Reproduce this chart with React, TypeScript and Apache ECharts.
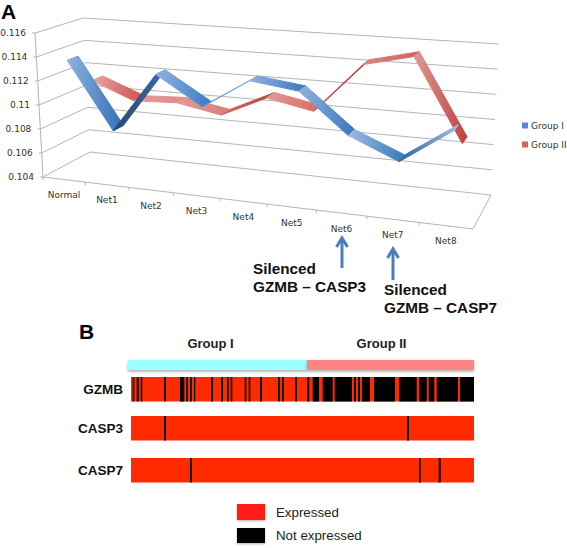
import React, { useEffect, useRef } from "react";
import * as echarts from "echarts";

const categories = ["Normal", "Net1", "Net2", "Net3", "Net4", "Net5", "Net6", "Net7", "Net8"];
const groupOne = [0.1136, 0.10805, 0.113, 0.1107, 0.1131, 0.1126, 0.1095, 0.1079, 0.1106];
const groupTwo = [0.11108, 0.10964, 0.1098, 0.1091, 0.11085, 0.1101, 0.11417, 0.11509, 0.1086];
const yTicks = [0.104, 0.106, 0.108, 0.11, 0.112, 0.114, 0.116];
const yTickLabels = ["0.104", "0.106", "0.108", "0.11", "0.112", "0.114", "0.116"];

const sampleCount = 343;
const gzmbSilent = [[1.7, 3.3], [5.7, 7.7], [9.7, 11.3], [33, 34.7], [49, 53.3], [55.3, 57], [59, 60.7], [63, 64.3], [80, 82], [90, 92], [96, 97.7], [99.7, 101.3], [113.7, 115.3], [117.7, 119.3], [129, 131], [147, 148.7], [151, 152.7], [164.3, 166], [176.3, 178.3], [181.7, 188], [191.7, 201.7], [203.7, 221], [223, 225], [227, 229], [231, 239], [243, 264], [268.3, 285.7], [288, 295.7], [297.7, 303.3], [305.7, 327], [329, 343]];
const casp3Silent = [[33, 35], [276, 278]];
const casp7Silent = [[59, 60.7], [288, 289.7], [307.7, 309.7]];
const geneRows = ["GZMB", "CASP3", "CASP7"];
const groupSpans = [["Group I", 0, 179], ["Group II", 179, 346]];

const FRAME = "#b4b4b4";
const TEXT = "#333333";
const BLUE_BAND = [0.19, 0.43];
const RED_BAND = [0.69, 0.93];
const BLUE_SHADES = [["#8fb2de", "#2f70b8"], ["#2a466e", "#3a6da8"], ["#8fb2de", "#3a7ac2"], ["#5f97d8", "#8db6e6"], ["#8fb2de", "#3a78bc"], ["#8fb2de", "#3a78bc"], ["#9dbce2", "#3a78bc"], ["#2f62a0", "#a4c0e2"]];
const RED_SHADES = [["#e9a5a2", "#cc4f4c"], ["#e29a97", "#dc8c88"], ["#e29a97", "#d97f7c"], ["#d66a66", "#b84441"], ["#e29a97", "#d96a66"], ["#c45450", "#b84441"], ["#d98582", "#cc6461"], ["#dc9a97", "#c0403d"]];

const lerp = (a: number, b: number, t: number) => a + (b - a) * t;
const warp = (u: number) => u / (u + 1.146 * (1 - u));

// perspective of the plot box: u along categories, v along values, d into the depth
function project(u: number, v: number, d: number): [number, number] {
  const w = warp(u);
  const corner = (fl: number, fr: number, bl: number, br: number) => lerp(lerp(fl, fr, w), lerp(bl, br, w), d);
  const x0 = corner(43, 473, 90, 491);
  const y0 = corner(177, 229, 152, 195);
  const x1 = corner(35, 482, 83, 499);
  const y1 = corner(33, 64, 18, 44);
  return [lerp(x0, x1, v), lerp(y0, y1, v)];
}

function toUnit(p: number[], rect: any) {
  return [(p[0] - rect.x) / rect.width, (rect.y + rect.height - p[1]) / rect.height];
}

function ribbonSeries(name: string, values: number[], band: number[], shades: string[][], color: string) {
  return {
    name,
    type: "custom",
    coordinateSystem: "cartesian2d",
    xAxisIndex: 0,
    yAxisIndex: 0,
    silent: true,
    itemStyle: { color },
    encode: { x: 0, y: 1 },
    data: values.slice(0, -1).map((v, i) => [i, v, values[i + 1]]),
    renderItem: (params: any, api: any) => {
      const i = api.value(0);
      const a = toUnit(api.coord([i, api.value(1)]), params.coordSys);
      const b = toUnit(api.coord([i + 1, api.value(2)]), params.coordSys);
      const pts = [project(a[0], a[1], band[0]), project(b[0], b[1], band[0]), project(b[0], b[1], band[1]), project(a[0], a[1], band[1])];
      const s = shades[i];
      const paint = () => new echarts.graphic.LinearGradient(0, 0, 1, 0, [{ offset: 0, color: s[0] }, { offset: 1, color: s[1] }]);
      return {
        type: "polygon",
        shape: { points: pts },
        style: { fill: paint(), stroke: paint(), lineWidth: 1, lineJoin: "round" },
      };
    },
  };
}

function stripeRow(index: number, silent: number[][]) {
  return {
    type: "custom",
    name: "row" + index,
    coordinateSystem: "cartesian2d",
    xAxisIndex: index + 1,
    yAxisIndex: index + 1,
    silent: true,
    encode: { x: [0, 1], y: 2 },
    data: [[0, sampleCount, 0, 0], ...silent.map((s) => [s[0], s[1], 0, 1])],
    renderItem: (params: any, api: any) => {
      const start = api.coord([api.value(0), 0]);
      const end = api.coord([api.value(1), 0]);
      const r = params.coordSys;
      return {
        type: "rect",
        shape: { x: start[0], y: r.y, width: end[0] - start[0], height: r.height },
        style: { fill: api.value(3) ? "#000000" : "#ff2a00" },
      };
    },
  };
}

const rowGrids = [
  { left: 131, top: 377, width: 343, height: 24.5 },
  { left: 131, top: 416, width: 343, height: 24.5 },
  { left: 131, top: 458, width: 343, height: 24.5 },
];

function buildOption() {
  const hiddenValue = (g: number, max: number) => ({ type: "value", gridIndex: g, min: 0, max, show: false });
  return {
    animation: false,
    backgroundColor: "#ffffff",
    legend: {
      data: ["Group I", "Group II"],
      orient: "vertical",
      left: 522,
      top: 121,
      itemWidth: 6,
      itemHeight: 6,
      itemGap: 10,
      icon: "rect",
      selectedMode: false,
      padding: 0,
      textStyle: { fontFamily: "DejaVu Sans", fontSize: 9, color: TEXT, padding: [0, 0, 0, -2] },
    },
    grid: [
      { left: 43, top: 33, width: 430, height: 144 },
      ...rowGrids,
      { left: 128, top: 360, width: 346, height: 10 },
    ],
    xAxis: [
      { type: "category", gridIndex: 0, data: categories, show: false },
      hiddenValue(1, sampleCount),
      hiddenValue(2, sampleCount),
      hiddenValue(3, sampleCount),
      hiddenValue(4, 346),
    ],
    yAxis: [
      { type: "value", gridIndex: 0, min: 0.104, max: 0.116, show: false },
      ...geneRows.map((g, i) => ({
        type: "category",
        gridIndex: i + 1,
        data: [g],
        axisLine: { show: false },
        axisTick: { show: false },
        axisLabel: { margin: 8, color: "#111111", fontFamily: "Liberation Sans", fontWeight: "bold", fontSize: 13.5 },
      })),
      { type: "value", gridIndex: 4, min: 0, max: 1, show: false },
    ],
    series: [
      {
        type: "custom",
        name: "walls",
        coordinateSystem: "cartesian2d",
        xAxisIndex: 0,
        yAxisIndex: 0,
        silent: true,
        encode: { y: 1 },
        data: yTicks.map((t, i) => [0, t, i]),
        renderItem: (params: any, api: any) => {
          const q = toUnit(api.coord([0, api.value(1)]), params.coordSys);
          const v = q[1];
          const front = project(0, v, 0);
          const back = project(0, v, 1);
          const right = project(1, v, 1);
          return {
            type: "group",
            children: [
              { type: "polyline", shape: { points: [front, back, right] }, style: { stroke: FRAME, fill: "none", lineWidth: 1 } },
              { type: "line", shape: { x1: front[0] - 3, y1: front[1], x2: front[0], y2: front[1] }, style: { stroke: FRAME, lineWidth: 1 } },
              { type: "text", x: front[0] - 9, y: front[1], style: { text: yTickLabels[api.value(2)], align: "right", verticalAlign: "middle", fontFamily: "DejaVu Sans", fontSize: 9, fill: TEXT } },
            ],
          };
        },
      },
      {
        type: "custom",
        name: "floor",
        coordinateSystem: "cartesian2d",
        xAxisIndex: 0,
        yAxisIndex: 0,
        silent: true,
        encode: { x: 0 },
        data: categories.map((_, i) => [i, 0.104]),
        renderItem: (params: any, api: any) => {
          const i = api.value(0);
          const mid = toUnit(api.coord([i, 0.104]), params.coordSys);
          const u0 = mid[0] - 0.5 / categories.length;
          const u1 = mid[0] + 0.5 / categories.length;
          const a = project(u0, 0, 0);
          const b = project(u1, 0, 0);
          const c = project(mid[0], 0, 0);
          const children: any[] = [
            { type: "line", shape: { x1: a[0], y1: a[1], x2: b[0], y2: b[1] }, style: { stroke: FRAME, lineWidth: 1 } },
            { type: "line", shape: { x1: a[0], y1: a[1], x2: a[0], y2: a[1] + 3 }, style: { stroke: FRAME, lineWidth: 1 } },
            { type: "text", x: c[0], y: c[1] + 15.5, style: { text: categories[i], align: "center", verticalAlign: "middle", fontFamily: "DejaVu Sans", fontSize: 9, fill: TEXT } },
          ];
          if (i === categories.length - 1) {
            const e = project(1, 0, 1);
            children.push({ type: "line", shape: { x1: b[0], y1: b[1], x2: e[0], y2: e[1] }, style: { stroke: FRAME, lineWidth: 1 } });
          }
          if (i === 0) {
            const top = project(0, 1, 0);
            children.push({ type: "line", shape: { x1: a[0], y1: a[1], x2: top[0], y2: top[1] }, style: { stroke: FRAME, lineWidth: 1 } });
          }
          return { type: "group", children };
        },
      },
      ribbonSeries("Group II", groupTwo, RED_BAND, RED_SHADES, "#d9605c"),
      ribbonSeries("Group I", groupOne, BLUE_BAND, BLUE_SHADES, "#4f8ad0"),
      stripeRow(0, gzmbSilent),
      stripeRow(1, casp3Silent),
      stripeRow(2, casp7Silent),
      {
        type: "custom",
        name: "groups",
        coordinateSystem: "cartesian2d",
        xAxisIndex: 4,
        yAxisIndex: 4,
        silent: true,
        encode: { x: [1, 2] },
        data: groupSpans,
        renderItem: (params: any, api: any) => {
          const i = params.dataIndex;
          const span = groupSpans[i] as any[];
          const a = api.coord([span[1], 0]);
          const b = api.coord([span[2], 0]);
          const r = params.coordSys;
          return {
            type: "group",
            children: [
              {
                type: "rect",
                shape: { x: a[0], y: r.y, width: b[0] - a[0], height: r.height },
                style: { fill: i === 0 ? "#99ffff" : "#ff8585", shadowColor: "rgba(0,0,0,0.35)", shadowBlur: 3, shadowOffsetY: 1.5 },
              },
              {
                type: "text",
                x: (a[0] + b[0]) / 2 + (i === 0 ? -7 : -9),
                y: r.y - 16.5,
                style: { text: span[0], align: "center", verticalAlign: "middle", fontFamily: "Liberation Sans", fontWeight: "bold", fontSize: 13, fill: "#222222" },
              },
            ],
          };
        },
      },
    ],
    graphic: [
      { type: "text", x: 1, y: 11, style: { text: "A", verticalAlign: "middle", fontFamily: "Liberation Sans", fontWeight: "bold", fontSize: 21, fill: "#000" } },
      { type: "text", x: 79, y: 331, style: { text: "B", verticalAlign: "middle", fontFamily: "Liberation Sans", fontWeight: "bold", fontSize: 21, fill: "#000" } },
      { type: "text", x: 253, y: 268, style: { text: "Silenced", verticalAlign: "middle", fontFamily: "Liberation Sans", fontWeight: "bold", fontSize: 15.3, fill: "#111" } },
      { type: "text", x: 253, y: 286.5, style: { text: "GZMB – CASP3", verticalAlign: "middle", fontFamily: "Liberation Sans", fontWeight: "bold", fontSize: 15.3, fill: "#111" } },
      { type: "text", x: 384, y: 289, style: { text: "Silenced", verticalAlign: "middle", fontFamily: "Liberation Sans", fontWeight: "bold", fontSize: 15.3, fill: "#111" } },
      { type: "text", x: 384, y: 307, style: { text: "GZMB – CASP7", verticalAlign: "middle", fontFamily: "Liberation Sans", fontWeight: "bold", fontSize: 15.3, fill: "#111" } },
      { type: "line", shape: { x1: 342, y1: 238, x2: 342, y2: 268 }, style: { stroke: "#4a7ebb", lineWidth: 3 } },
      { type: "polyline", shape: { points: [[336.5, 247], [342, 238], [347.5, 247]] }, style: { stroke: "#4a7ebb", lineWidth: 3, fill: "none" } },
      { type: "line", shape: { x1: 393, y1: 249, x2: 393, y2: 280 }, style: { stroke: "#4a7ebb", lineWidth: 3 } },
      { type: "polyline", shape: { points: [[387.5, 258], [393, 249], [398.5, 258]] }, style: { stroke: "#4a7ebb", lineWidth: 3, fill: "none" } },
      { type: "rect", shape: { x: 237, y: 504, width: 28, height: 16 }, style: { fill: "#ff1a12", shadowColor: "rgba(0,0,0,0.3)", shadowBlur: 2, shadowOffsetY: 1 } },
      { type: "rect", shape: { x: 237, y: 528, width: 28, height: 15 }, style: { fill: "#000000", shadowColor: "rgba(0,0,0,0.3)", shadowBlur: 2, shadowOffsetY: 1 } },
      { type: "text", x: 276, y: 512, style: { text: "Expressed", verticalAlign: "middle", fontFamily: "Liberation Sans", fontSize: 13.3, fill: "#222" } },
      { type: "text", x: 276, y: 535, style: { text: "Not expressed", verticalAlign: "middle", fontFamily: "Liberation Sans", fontSize: 13.3, fill: "#222" } },
    ],
  };
}

export default function App() {
  const ref = useRef<HTMLDivElement>(null);
  useEffect(() => {
    if (!ref.current) return;
    const chart = echarts.init(ref.current, undefined, { renderer: "svg" });
    chart.setOption(buildOption() as any);
    return () => chart.dispose();
  }, []);
  return <div ref={ref} style={{ position: "absolute", left: 0, top: 0, width: 567, height: 548, overflow: "hidden" }} />;
}
